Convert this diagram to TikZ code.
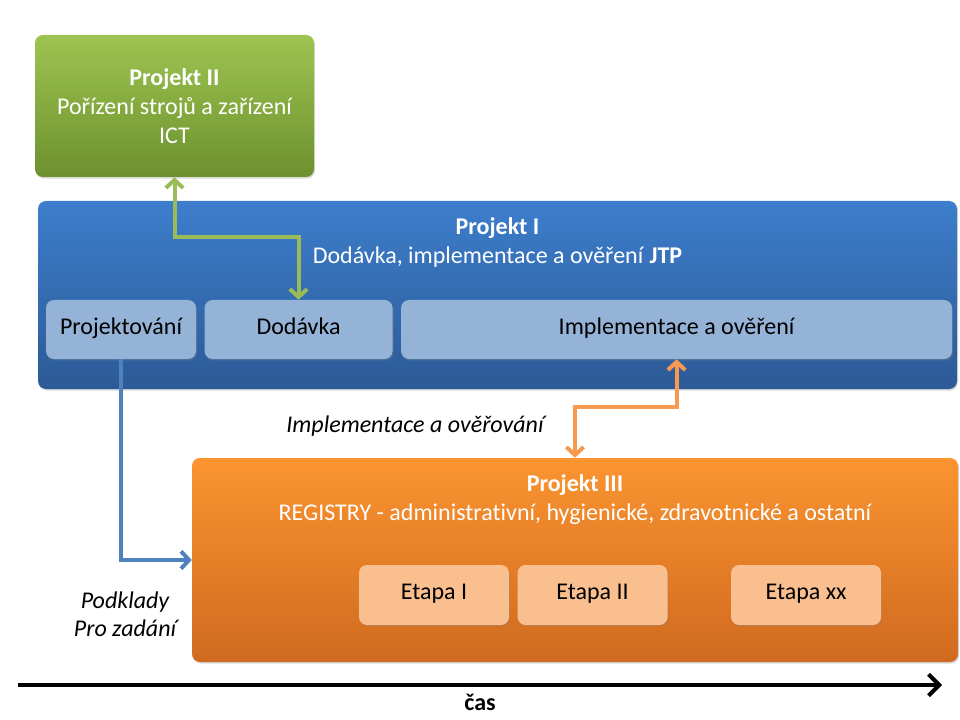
\documentclass[tikz,border=0pt]{standalone}
\usepackage{fontspec}
\setmainfont{Carlito}[Ligatures=NoCommon]
\usetikzlibrary{arrows.meta,positioning,shadows}

\definecolor{grnTop}{HTML}{9DC451}
\definecolor{grnBot}{HTML}{6C912E}
\definecolor{bluTop}{HTML}{3D7ECC}
\definecolor{bluBot}{HTML}{2C5A96}
\definecolor{subBlu}{HTML}{95B3D7}
\definecolor{orgTop}{HTML}{FB9430}
\definecolor{orgBot}{HTML}{D06A1F}
\definecolor{subOrg}{HTML}{F9BF8F}
\definecolor{lnkGrn}{HTML}{9BBB59}
\definecolor{lnkOrg}{HTML}{F79A50}
\definecolor{lnkBlu}{HTML}{4F81BD}

\begin{document}
\begin{tikzpicture}[x=0.75pt,y=-0.75pt,
  font=\fontsize{18}{21.75}\selectfont,
  node distance=6pt,
  >={Straight Barb[length=6pt,width=13pt]},
  box/.style={rounded corners=6pt,inner sep=0pt,align=center,text=white,
    drop shadow={opacity=.3,shadow xshift=.8pt,shadow yshift=-1.2pt}},
  sub/.style={box,fill=subBlu,text=black,minimum width=#1,minimum height=44.25pt,
    text height=.88em,text depth=.2em},
  etapa/.style={box,fill=subOrg,text=black,minimum width=112.5pt,minimum height=45pt,
    text height=.88em,text depth=.2em},
  head/.style={align=center,text=white,inner sep=0pt},
  note/.style={align=center,font=\fontsize{18}{21}\selectfont\itshape},
  link/.style={line width=3pt,draw=#1}
]
  \useasboundingbox (0,0) rectangle (960,720);

  % the three projects
  \node[box,top color=grnTop,bottom color=grnBot,minimum width=209.25pt,minimum height=106.5pt]
    (p2) at (174.5,106) {\textbf{Projekt II}\\Pořízení strojů a zařízení\\ICT};
  \node[box,top color=bluTop,bottom color=bluBot,minimum width=689.25pt,minimum height=141pt]
    (p1) at (497.5,295) {};
  \node[head,below=12.5pt of p1.north] (p1h) {\textbf{Projekt I}\\Dodávka, implementace a ověření \textbf{JTP}};
  \node[box,top color=orgTop,bottom color=orgBot,minimum width=574.5pt,minimum height=153pt]
    (p3) at (575,560) {};
  \node[head,below=12.5pt of p3.north] (p3h) {\textbf{Projekt III}\\REGISTRY - administrativní, hygienické, zdravotnické a ostatní};

  % phases of Projekt I
  \node[sub=112.5pt] (proj) at (121,329.5) {Projektování};
  \node[sub=141pt,right=of proj] (dod) {Dodávka};
  \node[sub=413.25pt,right=of dod] (impl) {Implementace a ověření};

  % stages of Projekt III
  \node[etapa] (e1) at (434,595) {Etapa I};
  \node[etapa,right=of e1] (e2) {Etapa II};
  \node[etapa,right=47.25pt of e2] (ex) {Etapa xx};

  % links
  \draw[link=lnkGrn,<->] (p2.south) -- ++(0,60) -| (dod.north);
  \draw[link=lnkOrg,<->] (impl.south) -- ++(0,48) -| (p3.north);
  \draw[link=lnkBlu,->] (proj.south) |- (p3.west);

  \node[note] (lbl1) at (415,426) {Implementace a ověřování};
  \node[note] (lbl2) at (125,614) {Podklady\\Pro zadání};

  % time axis
  \coordinate (t0) at (18,685);
  \coordinate (t1) at (942,685);
  \draw[line width=3pt,-{Straight Barb[length=8pt,width=16pt]}] (t0) -- (t1);
  \node[font=\fontsize{18}{20}\selectfont\bfseries] (cas) at (480,702) {čas};
\end{tikzpicture}
\end{document}
